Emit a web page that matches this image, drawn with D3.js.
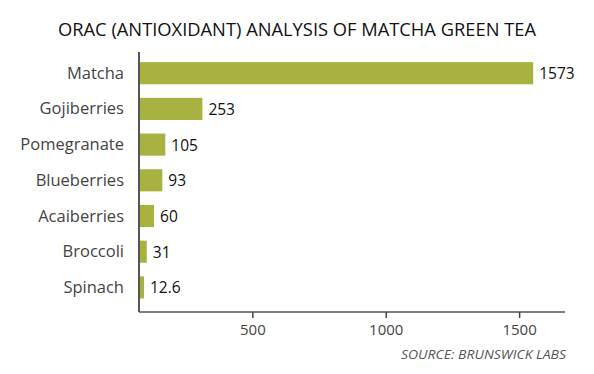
<!DOCTYPE html>
<html>
<head>
<meta charset="utf-8">
<script src="https://cdn.jsdelivr.net/npm/d3@7"></script>
<style>
  html, body { margin: 0; padding: 0; background: #fff; }
  svg { display: block; }
  text { font-family: "Open Sans", "Noto Sans", sans-serif; }
</style>
</head>
<body>
<svg id="chart" width="594" height="374"></svg>
<script>
const categories = ["Matcha", "Gojiberries", "Pomegranate", "Blueberries", "Acaiberries", "Broccoli", "Spinach"];
const values = [1573, 253, 105, 93, 60, 31, 12.6];
const valueLabels = ["1573", "253", "105", "93", "60", "31", "12.6"];
const tickValues = [500, 1000, 1500];
const title = "ORAC (ANTIOXIDANT) ANALYSIS OF MATCHA GREEN TEA";
const source = "SOURCE: BRUNSWICK LABS";

const svg = d3.select("#chart");
const left = 139, right = 565, axisY = 312;

// bar scale (bars start at the axis edge)
const x = d3.scaleLinear().domain([0, 1700]).range([left, right]);
// axis scale, as printed in the reference graphic
const xAxisScale = d3.scaleLinear().domain([75, 1672]).range([left, right]);

const y = d3.scaleBand().domain(categories).range([55.35, 305.25])
  .paddingInner(0.38).paddingOuter(0.19);

const data = categories.map((c, i) => ({ c, v: values[i], label: valueLabels[i] }));

// title
svg.append("text")
  .attr("x", 297).attr("y", 36)
  .attr("text-anchor", "middle")
  .attr("font-size", 18.5)
  .attr("fill", "#111")
  .attr("textLength", 478).attr("lengthAdjust", "spacingAndGlyphs")
  .text(title);

// bars
svg.append("g").selectAll("rect").data(data).join("rect")
  .attr("x", left)
  .attr("y", d => y(d.c))
  .attr("width", d => Math.max(5, x(d.v) - left))
  .attr("height", y.bandwidth())
  .attr("fill", "#a8b240");

// value labels
svg.append("g").selectAll("text").data(data).join("text")
  .attr("x", d => left + Math.max(5, x(d.v) - left) + 6)
  .attr("y", d => y(d.c) + y.bandwidth() / 2 + 6)
  .attr("font-size", 15.5)
  .attr("fill", "#111")
  .text(d => d.label);

// category labels
svg.append("g").selectAll("text").data(data).join("text")
  .attr("x", 124)
  .attr("y", d => y(d.c) + y.bandwidth() / 2 + 5.5)
  .attr("text-anchor", "end")
  .attr("font-size", 16.5)
  .attr("fill", "#444")
  .text(d => d.c);

// x axis
const axis = d3.axisBottom(xAxisScale).tickValues(tickValues).tickSize(6).tickPadding(6)
  .tickFormat(d3.format("d"));
const gx = svg.append("g").attr("transform", `translate(0,${axisY})`).call(axis);
gx.select(".domain").attr("stroke", "#555").attr("stroke-width", 1.5)
  .attr("d", `M${left},0H${right}`);
gx.selectAll(".tick line").attr("stroke", "#444").attr("stroke-width", 1.5);
gx.selectAll(".tick text").attr("font-size", 15).attr("fill", "#444")
  .attr("font-family", "\"Open Sans\", \"Noto Sans\", sans-serif");

// y axis line
svg.append("line")
  .attr("x1", left).attr("x2", left)
  .attr("y1", 52).attr("y2", axisY)
  .attr("stroke", "#555").attr("stroke-width", 2);

// source
svg.append("text")
  .attr("x", 566).attr("y", 359)
  .attr("text-anchor", "end")
  .attr("font-size", 12.5)
  .attr("font-style", "italic")
  .attr("fill", "#555")
  .attr("textLength", 165).attr("lengthAdjust", "spacingAndGlyphs")
  .text(source);
</script>
</body>
</html>
